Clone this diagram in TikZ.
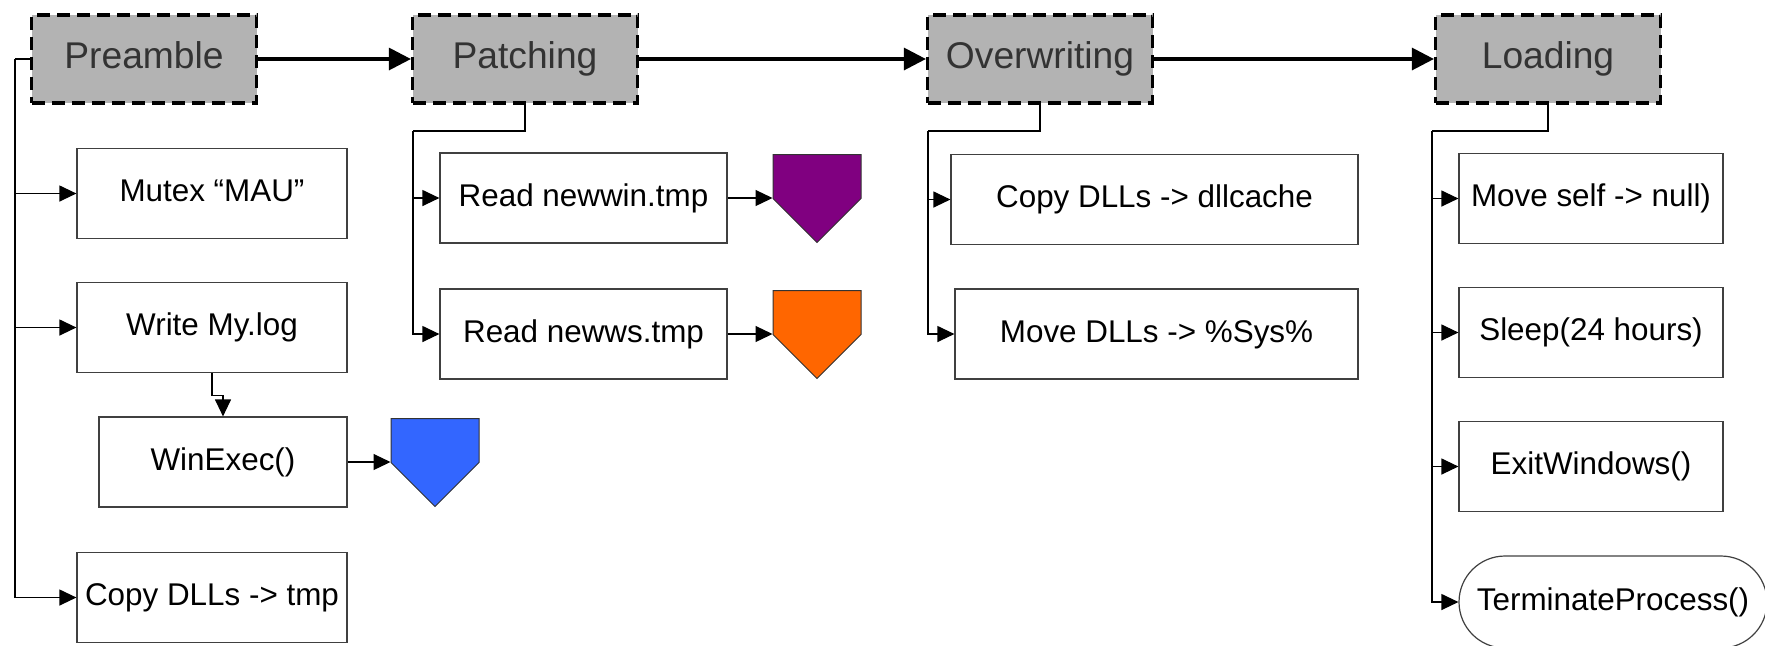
\documentclass[tikz,border=0pt]{standalone}
\usepackage{fontspec}
\setmainfont{Liberation Sans}
\usepackage{tikz}
\usetikzlibrary{arrows.meta,shapes.misc,shapes.symbols}

\definecolor{stagegray}{HTML}{B3B3B3}
\definecolor{stagetext}{HTML}{333333}
\definecolor{payloadpurple}{HTML}{800080}
\definecolor{payloadorange}{HTML}{FF6600}
\definecolor{payloadblue}{HTML}{3366FF}

\begin{document}
\begin{tikzpicture}[x=0.5pt, y=-0.5pt,
    stage/.style={draw=black, fill=stagegray, line width=1.6pt, dash pattern=on 6.5pt off 3.5pt,
        minimum width=112.5pt, minimum height=44pt, inner sep=0pt, text=stagetext,
        text height=13.6pt, text depth=3.9pt, font=\fontsize{18.6pt}{22pt}\selectfont},
    task/.style={draw=black!75, line width=0.6pt, minimum height=45pt, inner sep=0pt,
        text height=11.5pt, text depth=3.3pt, font=\fontsize{15.7pt}{19pt}\selectfont},
    payload/.style={shape=signal, signal to=south, signal pointer angle=90, draw=black!80,
        line width=0.5pt, minimum width=44pt, minimum height=22pt, inner sep=0pt, anchor=north},
    flow/.style={line width=1.6pt, -{Triangle[length=11pt,width=11pt]}},
    sub/.style={line width=0.6pt, -{Triangle[length=8.5pt,width=8pt]}},
    bus/.style={line width=0.6pt}]
    \useasboundingbox (0,0) rectangle (1765,645);

    % Stages
    \node[stage] (pre) at (144,59) {Preamble};
    \node[stage] (pat) at (525,59) {Patching};
    \node[stage] (ovr) at (1040,59) {Overwriting};
    \node[stage] (lod) at (1548,59) {Loading};
    \draw[flow] (pre) -- (pat);
    \draw[flow] (pat) -- (ovr);
    \draw[flow] (ovr) -- (lod);

    % Preamble steps
    \node[task, minimum width=135pt] (mutex) at (212,193.5) {Mutex “MAU”};
    \node[task, minimum width=135pt] (write) at (212,327.5) {Write My.log};
    \node[task, minimum width=124pt] (winexec) at (223,462) {WinExec()};
    \node[task, minimum width=135pt] (copytmp) at (212,597.5) {Copy DLLs -> tmp};
    \node[payload, fill=payloadblue] (pblue) at (435,418) {};
    \coordinate (prebus) at (15,59);
    \draw[bus] (pre.west) -- (prebus);
    \foreach \t in {mutex,write,copytmp}
        \draw[sub] (prebus) |- (\t.west);
    \draw[sub] (write.south) -- ++(0,22) -| (winexec.north);
    \draw[sub] (winexec.east) -- (winexec.east -| pblue.west);

    % Patching steps
    \node[task, minimum width=143.5pt] (nwin) at (583.5,198) {Read newwin.tmp};
    \node[task, minimum width=143.5pt] (nws) at (583.5,334) {Read newws.tmp};
    \node[payload, fill=payloadpurple] (ppurple) at (817,154) {};
    \node[payload, fill=payloadorange] (porange) at (817,290) {};
    \coordinate (patbus) at (413,131);
    \draw[bus] (pat.south) |- (patbus);
    \foreach \t in {nwin,nws}
        \draw[sub] (patbus) |- (\t.west);
    \draw[sub] (nwin.east) -- (nwin.east -| ppurple.west);
    \draw[sub] (nws.east) -- (nws.east -| porange.west);

    % Overwriting steps
    \node[task, minimum width=203.5pt] (dllcache) at (1154.5,199.5) {Copy DLLs -> dllcache};
    \node[task, minimum width=201.5pt] (movesys) at (1156.5,334) {Move DLLs -> \%Sys\%};
    \coordinate (ovrbus) at (928,131);
    \draw[bus] (ovr.south) |- (ovrbus);
    \foreach \t in {dllcache,movesys}
        \draw[sub] (ovrbus) |- (\t.west);

    % Loading steps
    \node[task, minimum width=132pt] (moveself) at (1591,198.5) {Move self -> null)};
    \node[task, minimum width=132pt] (sleep) at (1591,332.5) {Sleep(24 hours)};
    \node[task, minimum width=132pt] (exitwin) at (1591,466.5) {ExitWindows()};
    \node[task, rounded rectangle, minimum width=154pt, minimum height=46pt] (term) at (1613,602) {TerminateProcess()};
    \coordinate (lodbus) at (1432,131);
    \draw[bus] (lod.south) |- (lodbus);
    \foreach \t in {moveself,sleep,exitwin,term}
        \draw[sub] (lodbus) |- (\t.west);
\end{tikzpicture}
\end{document}
